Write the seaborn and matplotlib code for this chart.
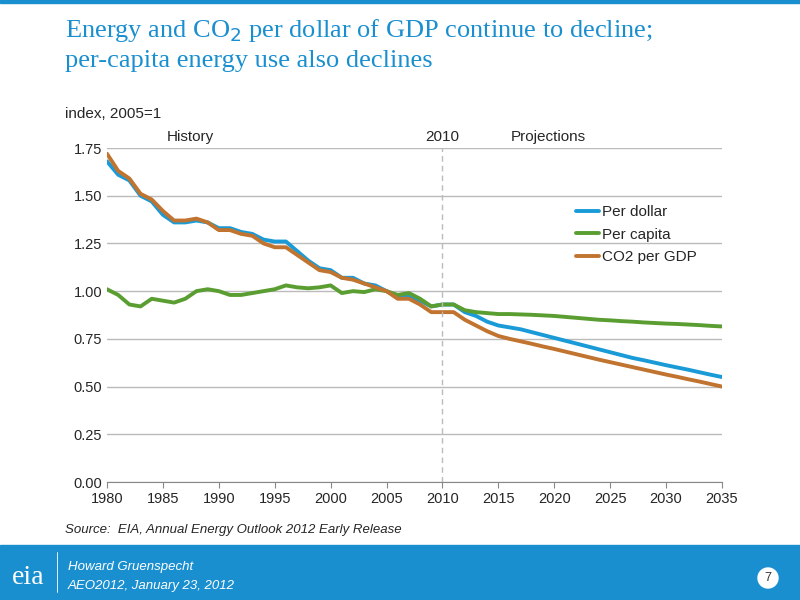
import matplotlib
matplotlib.use("Agg")
import matplotlib.pyplot as plt
import seaborn as sns
import pandas as pd
import numpy as np
from matplotlib.patches import Rectangle, Ellipse

years = list(range(1980, 2036))
per_dollar = [1.68,1.61,1.58,1.50,1.47,1.40,1.36,1.36,1.37,1.36,1.33,1.33,1.31,1.30,1.27,1.26,1.26,1.21,1.16,1.12,
              1.11,1.07,1.07,1.04,1.03,1.00,0.97,0.97,0.95,0.92,0.93,0.93,0.89,0.87,0.84,0.82,0.81,0.80,0.785,0.77,
              0.755,0.74,0.725,0.71,0.695,0.68,0.665,0.65,0.638,0.625,0.612,0.60,0.588,0.575,0.562,0.55]
per_capita = [1.01,0.98,0.93,0.92,0.96,0.95,0.94,0.96,1.00,1.01,1.00,0.98,0.98,0.99,1.00,1.01,1.03,1.02,1.015,1.02,
              1.03,0.99,1.00,0.995,1.01,1.00,0.98,0.99,0.96,0.92,0.93,0.93,0.90,0.89,0.885,0.88,0.88,0.878,0.876,0.873,
              0.87,0.865,0.86,0.855,0.85,0.847,0.843,0.84,0.836,0.833,0.83,0.828,0.825,0.822,0.818,0.815]
co2_gdp = [1.72,1.63,1.59,1.51,1.48,1.42,1.37,1.37,1.38,1.36,1.32,1.32,1.30,1.29,1.25,1.23,1.23,1.19,1.15,1.11,
           1.10,1.07,1.06,1.04,1.02,1.00,0.96,0.96,0.93,0.89,0.89,0.89,0.85,0.82,0.79,0.765,0.75,0.737,0.724,0.71,
           0.697,0.683,0.669,0.655,0.641,0.628,0.615,0.602,0.589,0.576,0.563,0.551,0.538,0.526,0.513,0.50]
names = ["Per dollar", "Per capita", "CO2 per GDP"]
colors = ["#1A9BD7", "#5A9E32", "#C0742F"]

df = pd.DataFrame({"year": years, names[0]: per_dollar, names[1]: per_capita, names[2]: co2_gdp})
long = df.melt("year", var_name="series", value_name="index")

sns.set_style("white")
plt.rcParams['font.family'] = ['Liberation Sans', 'DejaVu Sans']
fig = plt.figure(figsize=(8, 6), dpi=100)
ax = fig.add_axes([107/800, 1-482/600, 615/800, 334/600])
sns.lineplot(data=long, x="year", y="index", hue="series", palette=colors, linewidth=2.8, ax=ax)
ax.set_xlim(1980, 2035)
ax.set_ylim(0, 1.75)
ax.set_xticks(range(1980, 2036, 5))
ax.set_yticks(np.arange(0, 1.76, 0.25))
ax.set_yticklabels([f"{v:.2f}" for v in np.arange(0, 1.76, 0.25)])
ax.tick_params(labelsize=10.5, length=0)
ax.tick_params(axis='x', length=4, direction='out', bottom=True, color='#888')
ax.grid(axis='y', color='#BBBBBB', lw=1)
for s in ["top", "right", "left"]:
    ax.spines[s].set_visible(False)
ax.spines["bottom"].set_color("#888")
ax.set_xlabel(""); ax.set_ylabel("")
ax.axvline(2010, color='#BBBBBB', ls=(0, (4, 3)), lw=1)
ax.text(1987.5, 1.77, "History", ha='center', va='bottom', fontsize=11)
ax.text(2010, 1.77, "2010", ha='center', va='bottom', fontsize=11)
ax.text(2019.5, 1.77, "Projections", ha='center', va='bottom', fontsize=11)
leg = ax.legend(loc='upper left', bbox_to_anchor=(0.74, 0.87), frameon=False, fontsize=11,
                handlelength=1.5, handletextpad=0.2, labelspacing=0.55)
for l in leg.get_lines():
    l.set_linewidth(2.8)

fig.text(65/800, 1-30/600, "Energy and CO$_2$ per dollar of GDP continue to decline;", fontsize=19,
         color='#1A8FD0', family='Liberation Serif', va='center')
fig.text(65/800, 1-61/600, "per-capita energy use also declines", fontsize=19,
         color='#1A8FD0', family='Liberation Serif', va='center')
fig.text(65/800, 1-114/600, "index, 2005=1", fontsize=11, va='center')
fig.text(65/800, 1-530/600, "Source:  EIA, Annual Energy Outlook 2012 Early Release", fontsize=9.5,
         style='italic', va='center')
fig.patches.append(Rectangle((0, 1-3/600), 1, 3/600, transform=fig.transFigure, color='#1A8FD0', zorder=0))
fig.patches.append(Rectangle((0, 0), 1, 55/600, transform=fig.transFigure, color='#1A8FD0', zorder=0))
fig.text(12/800, 1-578/600, "eia", fontsize=20, color='white', family='Liberation Serif', va='center')
fig.lines.append(plt.Line2D([57/800, 57/800], [8/600, 48/600], transform=fig.transFigure, color='white', lw=0.6))
fig.text(68/800, 1-567/600, "Howard Gruenspecht", fontsize=9.5, style='italic', color='white', va='center')
fig.text(68/800, 1-586/600, "AEO2012, January 23, 2012", fontsize=9.5, style='italic', color='white', va='center')
fig.patches.append(Ellipse((768/800, 1-578/600), 20/800, 20/600, transform=fig.transFigure, color='white'))
fig.text(768/800, 1-578/600, "7", fontsize=9, ha='center', va='center', color='#333')
fig.savefig("out.png", dpi=100)
